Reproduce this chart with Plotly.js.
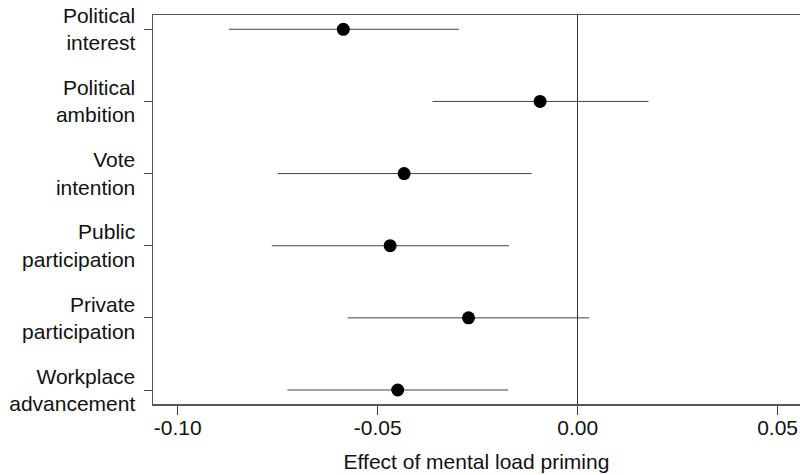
<!DOCTYPE html>
<html>
<head>
<meta charset="utf-8">
<script src="https://cdn.plot.ly/plotly-3.0.1.min.js"></script>
<style>html,body{margin:0;padding:0;background:#fff;}#chart{width:800px;height:475px;}</style>
</head>
<body>
<div id="chart"></div>
<script>
// Outcomes, listed top to bottom as in the figure
const outcomes = [
  "Political<br>interest",
  "Political<br>ambition",
  "Vote<br>intention",
  "Public<br>participation",
  "Private<br>participation",
  "Workplace<br>advancement"
];
// Point estimates of the effect of mental load priming
const estimate = [-0.0586, -0.0094, -0.0434, -0.0469, -0.0273, -0.0450];
// Confidence interval bounds
const ciLower = [-0.0872, -0.0363, -0.0750, -0.0765, -0.0575, -0.0726];
const ciUpper = [-0.0297, 0.0177, -0.0115, -0.0172, 0.0029, -0.0174];
// x-axis ticks
const xTickVals = [-0.10, -0.05, 0.00, 0.05];
const xTickText = ["-0.10", "-0.05", "0.00", "0.05"];

const errPlus = estimate.map((e, i) => ciUpper[i] - e);
const errMinus = estimate.map((e, i) => e - ciLower[i]);

const FONT = "Liberation Sans, Arial, sans-serif";

const trace = {
  type: "scatter",
  mode: "markers",
  x: estimate,
  y: outcomes,
  marker: {color: "#000", size: 13},
  error_x: {
    type: "data",
    symmetric: false,
    array: errPlus,
    arrayminus: errMinus,
    width: 0,
    thickness: 1,
    color: "#444"
  },
  hoverinfo: "x+y",
  showlegend: false
};

const layout = {
  width: 800,
  height: 475,
  margin: {l: 153, r: 0, t: 15, b: 71},
  paper_bgcolor: "#fff",
  plot_bgcolor: "#fff",
  font: {family: FONT, size: 21, color: "#111"},
  xaxis: {
    range: [-0.1062, 0.0556],
    tickvals: xTickVals,
    ticktext: xTickText,
    ticks: "outside",
    ticklen: 9,
    tickwidth: 1,
    tickcolor: "#444",
    showgrid: false,
    zeroline: true,
    zerolinecolor: "#333",
    zerolinewidth: 1,
    showline: true,
    linecolor: "#555",
    linewidth: 1.5,
    mirror: true,
    tickfont: {family: FONT, size: 21, color: "#111"},
    ticklabelstandoff: -5,
    title: {text: "Effect of mental load priming", font: {family: FONT, size: 21, color: "#111"}, standoff: 16}
  },
  yaxis: {
    type: "category",
    categoryorder: "array",
    categoryarray: outcomes.slice().reverse(),
    range: [-0.194, 5.198],
    ticks: "outside",
    ticklen: 8,
    tickwidth: 1,
    tickcolor: "#444",
    showgrid: false,
    zeroline: false,
    showline: true,
    linecolor: "#555",
    linewidth: 1.5,
    tickfont: {family: FONT, size: 21, color: "#111"},
    ticklabelstandoff: 4
  }
};

Plotly.newPlot("chart", [trace], layout, {displayModeBar: false, staticPlot: true});
</script>
</body>
</html>
